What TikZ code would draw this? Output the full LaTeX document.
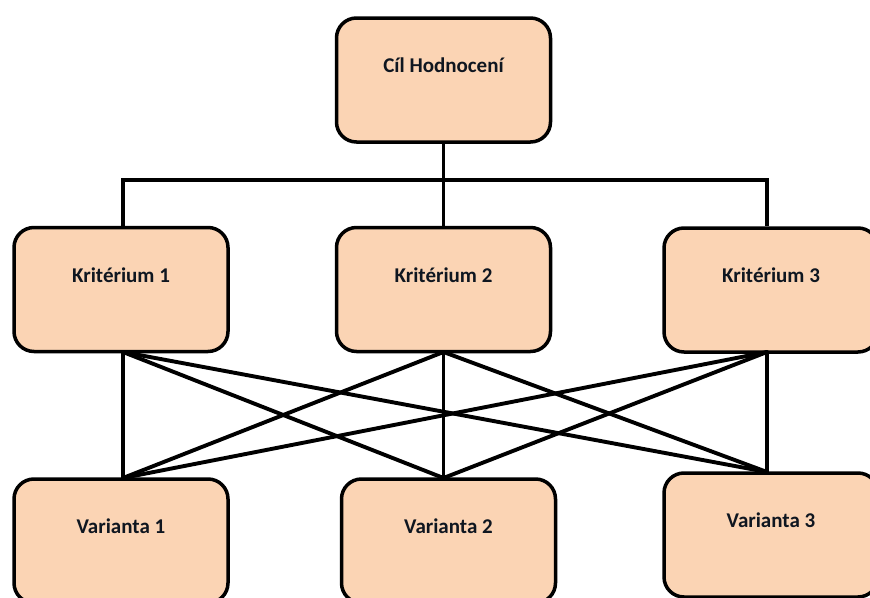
\documentclass[tikz,border=0pt]{standalone}
\usepackage{fontspec}
\setmainfont{Carlito}
\definecolor{boxfill}{HTML}{FBD4B4}
\definecolor{txt}{HTML}{0F1620}
\begin{document}
\begin{tikzpicture}[x=1pt,y=-1pt,
  box/.style={draw=black, line width=3.5pt, fill=boxfill, rounded corners=20pt,
    minimum width=214pt, minimum height=124pt, inner sep=0pt,
    font=\fontsize{21}{24}\selectfont\bfseries, text=txt,
    text height=13pt, text depth=28pt},
  conn/.style={draw=black, line width=3.9pt}]
\useasboundingbox (0,0) rectangle (870,597);
\clip (0,0) rectangle (870,597);
\fill[white] (0,0) rectangle (870,597);
\node[box] (cil) at (443.5,80) {Cíl Hodnocení};
\node[box] (k1) at (121,289.5) {Kritérium 1};
\node[box] (k2) at (443.5,289.5) {Kritérium 2};
\node[box] (k3) at (771,290) {Kritérium 3};
\node[box] (v1) at (121,541) {Varianta 1};
\node[box] (v2) at (448.5,541) {Varianta 2};
\node[box] (v3) at (771,535) {Varianta 3};
\coordinate (bus) at (443.5,180);
\coordinate (k1b) at (123,352);
\coordinate (k2b) at (443.5,352);
\coordinate (k3b) at (767,352);
\coordinate (v1t) at (123,478);
\coordinate (v2t) at (443.5,478);
\coordinate (v3t) at (767,472);
\draw[conn] (cil.south) -- (bus);
\draw[conn] (k1.north -| k1b) |- (bus) -| (k3.north -| k3b);
\draw[conn] (bus) -- (k2.north);
\foreach \k in {k1b,k2b,k3b}
  \foreach \v in {v1t,v2t,v3t}
    \draw[conn, line cap=round] (\k) -- (\v);
\end{tikzpicture}
\end{document}
